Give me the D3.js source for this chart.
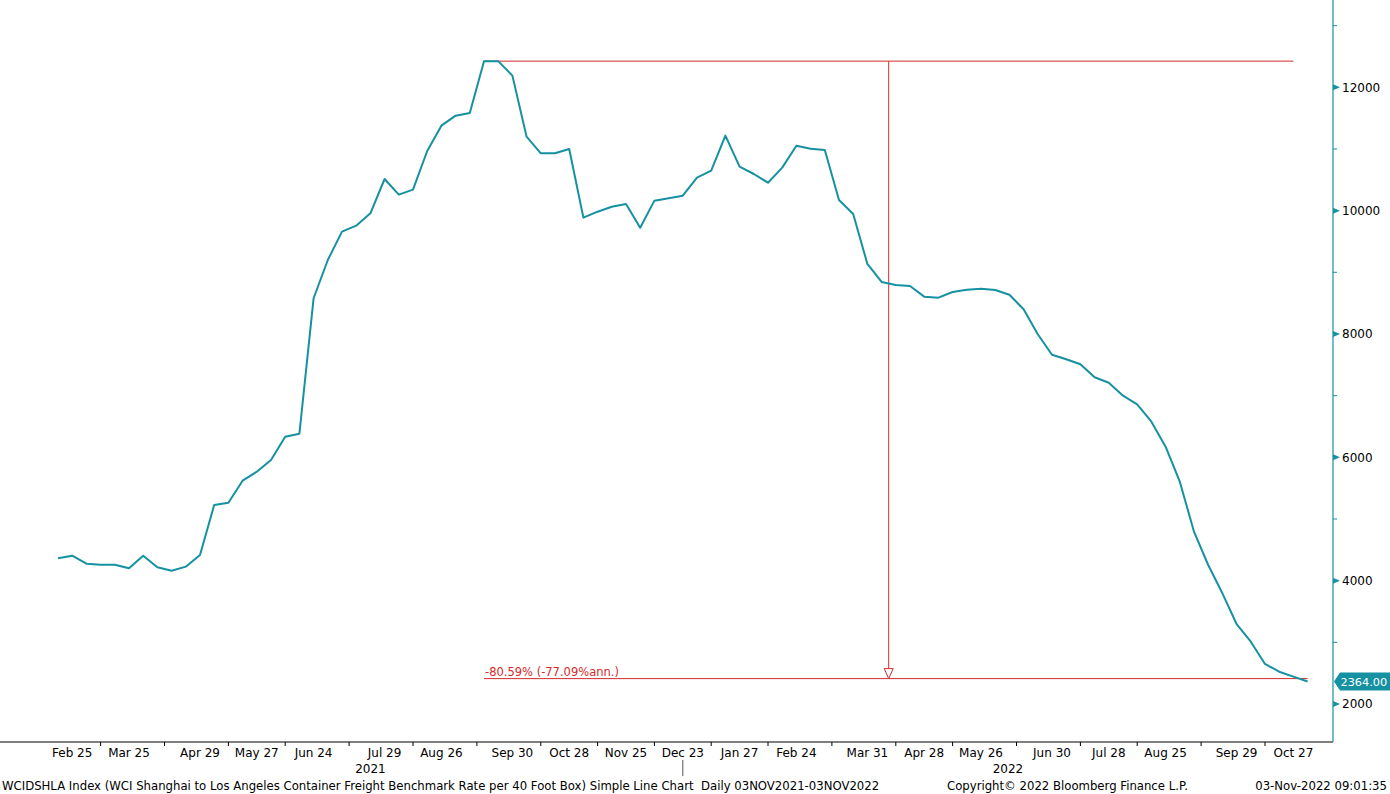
<!DOCTYPE html>
<html>
<head>
<meta charset="utf-8">
<script src="https://cdn.jsdelivr.net/npm/d3@7"></script>
<style>
  html, body { margin: 0; padding: 0; background: #fff; }
  svg { display: block; }
  text { font-family: "DejaVu Sans", Verdana, sans-serif; white-space: pre; }
</style>
</head>
<body>
<svg id="chart" width="1390" height="794"></svg>
<script>
// ---- data ----
const dates = [
  "2021-02-18","2021-02-25","2021-03-04","2021-03-11","2021-03-18","2021-03-25",
  "2021-04-01","2021-04-08","2021-04-15","2021-04-22","2021-04-29",
  "2021-05-06","2021-05-13","2021-05-20","2021-05-27",
  "2021-06-03","2021-06-10","2021-06-17","2021-06-24",
  "2021-07-01","2021-07-08","2021-07-15","2021-07-22","2021-07-29",
  "2021-08-05","2021-08-12","2021-08-19","2021-08-26",
  "2021-09-02","2021-09-09","2021-09-16","2021-09-23","2021-09-30",
  "2021-10-07","2021-10-14","2021-10-21","2021-10-28",
  "2021-11-04","2021-11-11","2021-11-18","2021-11-25",
  "2021-12-02","2021-12-09","2021-12-16","2021-12-23",
  "2022-01-06","2022-01-13","2022-01-20","2022-01-27",
  "2022-02-03","2022-02-10","2022-02-17","2022-02-24",
  "2022-03-03","2022-03-10","2022-03-17","2022-03-24","2022-03-31",
  "2022-04-07","2022-04-14","2022-04-21","2022-04-28",
  "2022-05-05","2022-05-12","2022-05-19","2022-05-26",
  "2022-06-02","2022-06-09","2022-06-16","2022-06-23","2022-06-30",
  "2022-07-07","2022-07-14","2022-07-21","2022-07-28",
  "2022-08-04","2022-08-11","2022-08-18","2022-08-25",
  "2022-09-01","2022-09-08","2022-09-15","2022-09-22","2022-09-29",
  "2022-10-06","2022-10-13","2022-10-20","2022-10-27",
  "2022-11-03"
];
const values = [
  4363,4405,4275,4259,4259,4201,4405,4217,4162,4227,4416,
  5227,5264,5621,5767,5957,6335,6383,8579,9200,9659,9756,9957,10513,
  10259,10340,10967,11378,11540,11584,12424,12424,12189,11199,10930,10930,11000,
  9886,9983,10064,10108,9724,10162,10200,10243,
  10535,10648,11216,10713,10594,10453,10697,11053,11005,10984,10173,9946,9135,
  8843,8795,8778,8605,8589,8681,8718,8735,8713,8637,8400,7995,7664,
  7590,7509,7298,7210,6999,6860,6578,6172,5605,4794,4254,3795,3297,
  3010,2649,2524,2443,2364
];
const tickDates = ["2021-02-25","2021-03-25","2021-04-29","2021-05-27","2021-06-24","2021-07-29",
  "2021-08-26","2021-09-30","2021-10-28","2021-11-25","2021-12-23","2022-01-27","2022-02-24",
  "2022-03-31","2022-04-28","2022-05-26","2022-06-30","2022-07-28","2022-08-25","2022-09-29","2022-10-27"];
const tickLabels = ["Feb 25","Mar 25","Apr 29","May 27","Jun 24","Jul 29","Aug 26","Sep 30","Oct 28",
  "Nov 25","Dec 23","Jan 27","Feb 24","Mar 31","Apr 28","May 26","Jun 30","Jul 28","Aug 25","Sep 29","Oct 27"];
const yearLabels = ["2021","2022"];
const yTickValues = [2000,4000,6000,8000,10000,12000];
const yMinorValues = [3000,5000,7000,9000,11000,13000];
const changeText = "-80.59% (-77.09%ann.)";
const changePct = -80.59;
const footerLeft = "WCIDSHLA Index (WCI Shanghai to Los Angeles Container Freight Benchmark Rate per 40 Foot Box) Simple Line Chart  Daily 03NOV2021-03NOV2022";
const footerMid = "Copyright\u00A9 2022 Bloomberg Finance L.P.";
const footerRight = "03-Nov-2022 09:01:35";

// ---- layout ----
const W = 1390, H = 794;
const axisX = 1333, axisY = 742;
const teal = "#1591a1", red = "#d42a2a";
const svg = d3.select("#chart");

const x = d3.scaleLinear().domain([0, values.length - 1]).range([58, 1307.6]);
const y = d3.scaleLinear().domain([2000, 12000]).range([704, 87.3]);

// bottom axis line
svg.append("line").attr("x1", 0).attr("x2", axisX).attr("y1", axisY).attr("y2", axisY)
  .attr("stroke", "#000").attr("stroke-width", 1);

// x tick labels + ticks between labels
const tickIdx = tickDates.map(d => dates.indexOf(d));
svg.append("g").selectAll("text").data(tickLabels).join("text")
  .attr("x", (d, i) => x(tickIdx[i])).attr("y", 757)
  .attr("text-anchor", "middle").attr("font-size", 12).attr("fill", "#000")
  .text(d => d);
const midTicks = [];
for (let i = 0; i < tickIdx.length - 1; i++) midTicks.push((tickIdx[i] + tickIdx[i + 1]) / 2);
svg.append("g").selectAll("line").data(midTicks).join("line")
  .attr("x1", d => x(d)).attr("x2", d => x(d)).attr("y1", axisY).attr("y2", axisY + 4)
  .attr("stroke", "#000").attr("stroke-width", 1);

// year labels & separator
const sepIdx = dates.indexOf("2021-12-23");
const yearCenters = [
  (x(0) + x(sepIdx)) / 2,
  (x(sepIdx) + axisX) / 2
];
svg.append("g").selectAll("text").data(yearLabels).join("text")
  .attr("x", (d, i) => yearCenters[i]).attr("y", 773)
  .attr("text-anchor", "middle").attr("font-size", 12).attr("fill", "#000")
  .text(d => d);
svg.append("line").attr("x1", x(sepIdx)).attr("x2", x(sepIdx)).attr("y1", 760).attr("y2", 776)
  .attr("stroke", "#555").attr("stroke-width", 1);

// right axis
svg.append("line").attr("x1", axisX).attr("x2", axisX).attr("y1", 0).attr("y2", axisY)
  .attr("stroke", teal).attr("stroke-width", 1.2);
const yg = svg.append("g");
yg.selectAll("path.maj").data(yTickValues).join("path").attr("class", "maj")
  .attr("d", d => `M${axisX},${y(d) - 3}L${axisX + 7},${y(d)}L${axisX},${y(d) + 3}Z`)
  .attr("fill", teal);
yg.selectAll("line.min").data(yMinorValues).join("line").attr("class", "min")
  .attr("x1", axisX).attr("x2", axisX + 4).attr("y1", d => y(d)).attr("y2", d => y(d))
  .attr("stroke", teal).attr("stroke-width", 1);
yg.selectAll("text").data(yTickValues).join("text")
  .attr("x", axisX + 9).attr("y", d => y(d)).attr("dy", "0.35em")
  .attr("font-size", 12).attr("fill", "#000")
  .text(d => d);

// annotation (red)
const peakIdx = values.indexOf(d3.max(values));
const lastIdx = values.length - 1;
const peakVal = values[peakIdx];
const endVal = peakVal * (1 + changePct / 100);
const ann = svg.append("g");
ann.append("line").attr("x1", x(peakIdx)).attr("x2", x(lastIdx - 1))
  .attr("y1", y(peakVal)).attr("y2", y(peakVal)).attr("stroke", red).attr("stroke-width", 1);
ann.append("line").attr("x1", x(peakIdx)).attr("x2", x(lastIdx))
  .attr("y1", y(endVal)).attr("y2", y(endVal)).attr("stroke", red).attr("stroke-width", 1);
const vx = x((peakIdx + lastIdx - 1) / 2);
ann.append("line").attr("x1", vx).attr("x2", vx)
  .attr("y1", y(peakVal)).attr("y2", y(endVal) - 10).attr("stroke", red).attr("stroke-width", 1);
ann.append("path")
  .attr("d", `M${vx - 4.5},${y(endVal) - 10}L${vx + 4.5},${y(endVal) - 10}L${vx},${y(endVal)}Z`)
  .attr("fill", "#fff").attr("stroke", red).attr("stroke-width", 1);
ann.append("text").attr("x", x(peakIdx) + 1).attr("y", y(endVal) - 3)
  .attr("font-size", 11.5).attr("fill", red).text(changeText);

// the series line
const line = d3.line().x((d, i) => x(i)).y(d => y(d));
svg.append("path").datum(values).attr("d", line)
  .attr("fill", "none").attr("stroke", teal).attr("stroke-width", 2)
  .attr("stroke-linejoin", "round");

// last value label
const lv = values[lastIdx];
const ly = y(lv);
svg.append("path")
  .attr("d", `M${axisX + 1},${ly}L${axisX + 7},${ly - 9}L${W},${ly - 9}L${W},${ly + 9}L${axisX + 7},${ly + 9}Z`)
  .attr("fill", teal);
svg.append("text").attr("x", axisX + 7.5).attr("y", ly).attr("dy", "0.36em")
  .attr("font-size", 11.3).attr("fill", "#fff").text(lv.toFixed(2));

// footer
svg.append("text").attr("x", 2).attr("y", 790).attr("font-size", 11.7).attr("fill", "#000").text(footerLeft);
svg.append("text").attr("x", 947).attr("y", 790).attr("font-size", 11.7).attr("fill", "#000").text(footerMid);
svg.append("text").attr("x", 1387).attr("y", 790).attr("text-anchor", "end").attr("font-size", 11.7).attr("fill", "#000").text(footerRight);
</script>
</body>
</html>
